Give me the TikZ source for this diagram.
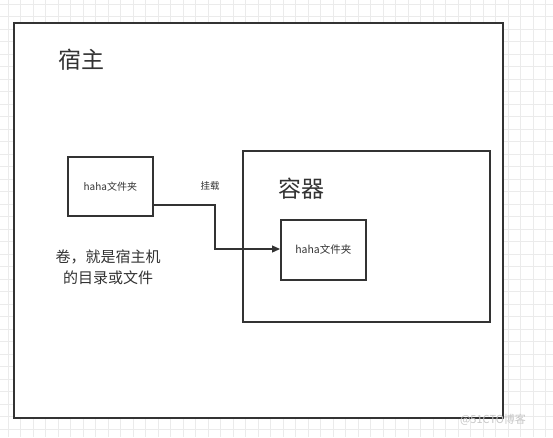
\documentclass[tikz,border=0pt]{standalone}
\usepackage{fontspec}
\setmainfont{Noto Sans CJK SC}
\usetikzlibrary{arrows.meta}
\definecolor{ink}{HTML}{333333}
\definecolor{gridc}{HTML}{EBEBEB}
\tikzset{
  box/.style={draw=ink, line width=1.6pt, fill=white},
  lbl/.style={text=ink, inner sep=0pt},
  conn/.style={draw=ink, line width=1.2pt, -{Triangle[length=8pt,width=7pt]}}
}
\begin{document}
\begin{tikzpicture}[x=1pt,y=-1pt]
\useasboundingbox (0,0) rectangle (553,437);
\fill[white] (0,0) rectangle (553,437);
\foreach \i in {0,...,45} {
  \draw[gridc, line width=0.6pt] (8+\i*12.5,0) -- (8+\i*12.5,437);
}
\foreach \j in {0,...,35} {
  \draw[gridc, line width=0.6pt] (0,4+\j*12.5) -- (553,4+\j*12.5);
}
\node[box, minimum width=489pt, minimum height=395pt, anchor=north west] (host) at (13,22) {};
\node[lbl, font=\fontsize{23}{27}\selectfont, anchor=west] (hostl) at (58,60) {宿主};
\node[box, minimum width=85pt, minimum height=59pt, anchor=north west, font=\fontsize{10}{12}\selectfont, text=ink] (hf) at (67,156) {haha文件夹};
\node[box, minimum width=247pt, minimum height=171pt, anchor=north west] (ctr) at (242,150) {};
\node[lbl, font=\fontsize{23}{27}\selectfont, anchor=west] (ctrl) at (278,189) {容器};
\node[box, minimum width=85pt, minimum height=60pt, anchor=north west, font=\fontsize{10.5}{12}\selectfont, text=ink] (cf) at (280,219) {haha文件夹};
\coordinate (b1) at (215,205);
\coordinate (b2) at (215,249);
\draw[conn] (hf.east |- b1) -- (b1) -- (b2) -- (cf.west |- b2);
\node[lbl, font=\fontsize{9.5}{11}\selectfont] (mount) at (210,186) {挂载};
\node[lbl, font=\fontsize{15}{21}\selectfont, align=center] (vol) at (108,267) {卷，就是宿主机\\的目录或文件};
\node[lbl, font=\fontsize{11}{13}\selectfont, text=black!22] (wm) at (493,420) {@51CTO博客};
\end{tikzpicture}
\end{document}
